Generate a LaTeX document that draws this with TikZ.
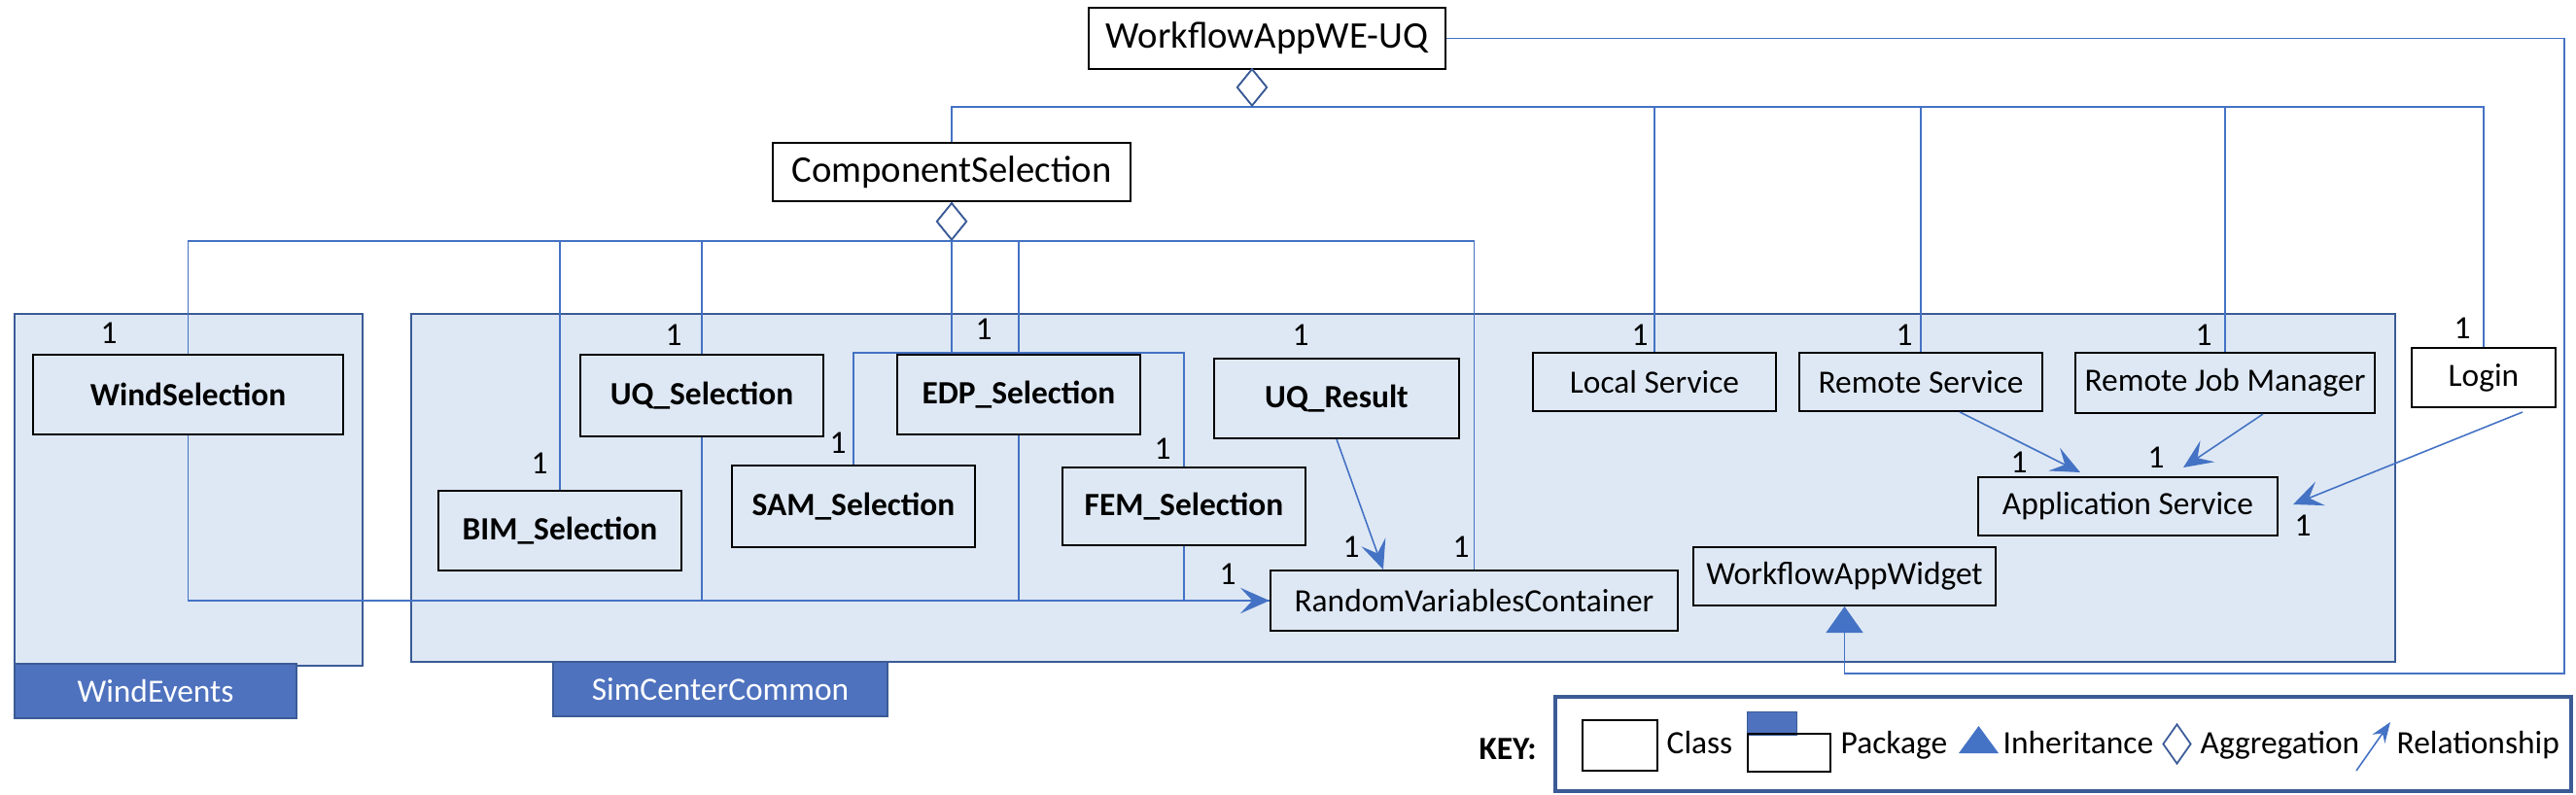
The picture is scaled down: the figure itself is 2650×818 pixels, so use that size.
\documentclass[tikz,border=0pt]{standalone}
\usepackage{fontspec}
\setmainfont{Carlito}
\usetikzlibrary{arrows.meta,shapes.geometric}

\definecolor{linkblue}{HTML}{4472C4}
\definecolor{pkgfill}{HTML}{DEE8F4}
\definecolor{pkgline}{HTML}{3B5B96}
\definecolor{tabfill}{HTML}{4E72BE}

\newcommand{\smallfont}{\fontsize{9.5}{11}\selectfont}
\newcommand{\largefont}{\fontsize{11}{13}\selectfont}

\tikzset{
  cls/.style={draw, line width=0.55pt, inner sep=0pt, font=\smallfont},
  pkg/.style={fill=pkgfill, draw=pkgline, line width=0.7pt},
  pkgtab/.style={fill=tabfill, draw=pkgline, line width=0.7pt, inner sep=0pt, text=white, font=\smallfont},
  link/.style={draw=linkblue, line width=0.45pt},
  rel/.style={link, -{Stealth[length=8.5pt, width=7.5pt, inset=3.5pt]}},
  inh/.style={link, -{Triangle[length=7.7pt, width=10.8pt]}},
  aggr/.style={shape=diamond, draw=pkgline, fill=white, line width=0.5pt, inner sep=0pt, minimum width=0.31cm, minimum height=0.38cm},
  mult/.style={inner sep=0pt, font=\smallfont},
  keytext/.style={inner sep=0pt, anchor=base west, font=\smallfont},
}

\begin{document}
\begin{tikzpicture}[x=0.01cm, y=-0.01cm]
        \useasboundingbox (0,0) rectangle (2650,818);

        % Draw the packages
        \draw[pkg] (15,323) rectangle (373,685);
        \draw[pkg] (423,323) rectangle (2464,681);
        \node[pkgtab, minimum width=2.90cm, minimum height=0.56cm] (windtab) at (160,711) {WindEvents};
        \node[pkgtab, minimum width=3.44cm, minimum height=0.56cm] (commontab) at (741,709) {SimCenterCommon};

        % Add the classes
        \node[cls, font=\largefont, minimum width=3.67cm, minimum height=0.63cm] (wf) at (1303.5,39.5) {WorkflowAppWE-UQ};
        \node[cls, font=\largefont, minimum width=3.68cm, minimum height=0.60cm] (comp) at (979,177) {ComponentSelection};

        \node[cls, font=\smallfont\bfseries, minimum width=3.19cm, minimum height=0.82cm] (wind) at (193.5,406) {WindSelection};
        \node[cls, font=\smallfont\bfseries, minimum width=2.50cm, minimum height=0.84cm] (uqsel) at (722,407) {UQ\_Selection};
        \node[cls, font=\smallfont\bfseries, minimum width=2.50cm, minimum height=0.82cm] (edp) at (1048,406) {EDP\_Selection};
        \node[cls, font=\smallfont\bfseries, minimum width=2.52cm, minimum height=0.82cm] (uqres) at (1375,410) {UQ\_Result};
        \node[cls, font=\smallfont\bfseries, minimum width=2.50cm, minimum height=0.82cm] (bim) at (576,546) {BIM\_Selection};
        \node[cls, font=\smallfont\bfseries, minimum width=2.50cm, minimum height=0.84cm] (sam) at (878,521) {SAM\_Selection};
        \node[cls, font=\smallfont\bfseries, minimum width=2.50cm, minimum height=0.80cm] (fem) at (1218,521) {FEM\_Selection};

        \node[cls, minimum width=4.19cm, minimum height=0.62cm] (rvc) at (1516.5,618) {RandomVariablesContainer};
        \node[cls, minimum width=3.11cm, minimum height=0.60cm] (widget) at (1897.5,593) {WorkflowAppWidget};
        \node[cls, minimum width=3.08cm, minimum height=0.60cm] (appsvc) at (2189,521) {Application Service};
        \node[cls, minimum width=2.50cm, minimum height=0.60cm] (local) at (1702,393) {Local Service};
        \node[cls, minimum width=2.50cm, minimum height=0.60cm] (remote) at (1976,393) {Remote Service};
        \node[cls, minimum width=3.08cm, minimum height=0.62cm] (rjm) at (2289,394) {Remote Job Manager};
        \node[cls, minimum width=1.48cm, minimum height=0.61cm] (login) at (2555,388.5) {Login};

        % Aggregation from WorkflowAppWE-UQ
        \node[aggr, anchor=north] (wfdia) at (1288,70) {};
        \foreach \t in {comp,local,remote,rjm,login}
            \draw[link] (wfdia.south) -| (\t.north);

        % Aggregation from ComponentSelection
        \node[aggr, anchor=north] (compdia) at (comp.south) {};
        \coordinate (split) at (979,363);
        \foreach \t in {wind,bim,uqsel,edp,rvc}
            \draw[link] (compdia.south) -| (\t.north);
        \draw[link] (compdia.south) -- (split) -| (sam.north);
        \draw[link] (split) -| (fem.north);
        \node[aggr, anchor=north] at (comp.south) {};
        \node[aggr, anchor=north] at (1288,70) {};

        % Relationships
        \foreach \t in {uqsel,edp,fem}
            \draw[link] (\t.south) |- (rvc.west);
        \draw[rel] (wind.south) |- (rvc.west);
        \draw[rel] (uqres.south) -- ([xshift=-0.935cm]rvc.north);
        \draw[rel] ([xshift=0.40cm]remote.south) -- ([xshift=-0.49cm, yshift=0.04cm]appsvc.north);
        \draw[rel] ([xshift=0.39cm]rjm.south) -- ([xshift=0.57cm, yshift=0.09cm]appsvc.north);
        \draw[rel] ([xshift=0.40cm, yshift=-0.04cm]login.south) -- ([xshift=0.15cm, yshift=0.02cm]appsvc.east);

        % Inheritance
        \coordinate (corner) at (2638,693);
        \draw[inh] (wf.east) -| (corner) -| (widget.south);

        % Add the multiplicities
        \foreach \mx/\my [count=\i] in {112/343, 693/345, 1012/339, 1338/345, 1687/345, 1959/345, 2267/345, 2533/338,
                                        555/477, 862/456, 1196/462, 1263/591, 1390/563, 1503/563,
                                        2077/476, 2218/471, 2369/541}
            \node[mult] (one\i) at (\mx,\my) {1};

        % Draw the key
        \draw[draw=pkgline, line width=1.2pt] (1600,717) rectangle (2645,814);
        \node[inner sep=0pt, anchor=base, font=\smallfont\bfseries] (keylbl) at (1551,781) {KEY:};
        \node[draw, line width=0.55pt, minimum width=0.77cm, minimum height=0.52cm] (keyclass) at (1666.5,767) {};
        \node[keytext] (keyclasstxt) at (1714,775) {Class};
        \node[draw=pkgline, fill=tabfill, line width=0.4pt, minimum width=0.51cm, minimum height=0.22cm, anchor=north west] (keytab) at (1797,732) {};
        \node[draw, line width=0.55pt, minimum width=0.85cm, minimum height=0.39cm, anchor=north west] (keypkg) at (1797,754) {};
        \node[keytext] (keypkgtxt) at (1893,775) {Package};
        \fill[linkblue] (2015,775) -- (2035.5,747) -- (2056,775) -- cycle;
        \node[keytext] (keyinhtxt) at (2060,775) {Inheritance};
        \node[aggr, minimum width=0.29cm, minimum height=0.41cm] (keyaggr) at (2239.5,765.5) {};
        \node[keytext] (keyaggrtxt) at (2263,775) {Aggregation};
        \coordinate (keyfrom) at (2424,793);
        \coordinate (keyto) at (2459,743);
        \draw[link, -{Stealth[length=6pt, width=4.5pt, inset=2pt]}] (keyfrom) -- (keyto);
        \node[keytext] (keyreltxt) at (2465,775) {Relationship};
    \end{tikzpicture}
\end{document}
